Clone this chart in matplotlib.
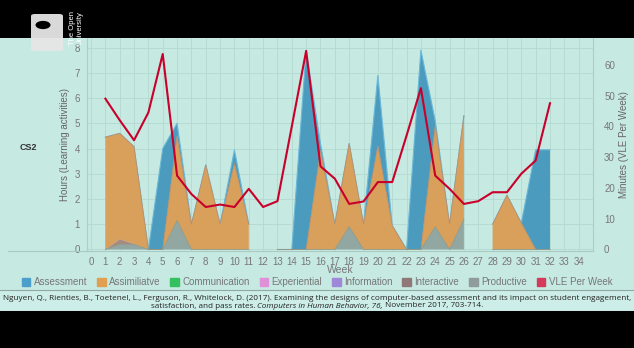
import numpy as np
import matplotlib
matplotlib.use("Agg")
import matplotlib.pyplot as plt
from matplotlib.patches import Rectangle, FancyBboxPatch, Circle
from matplotlib.lines import Line2D

nan = np.nan
weeks = list(range(0, 35))
# hours per week, index = week 0..34 (nan = no data)
assessment  = [nan, 0, 0, 0, 0, 4.0, 0.5, 0, 0, 0, 0.55, 0, nan, 0, 0, 7.9, 0.3, 0, 0, 0, 2.8, 0, 0, 7.9, 0.2, 0, 0, nan, 0, 0, 0, 3.95, 3.95, nan, nan]
assimilative = [nan, 4.45, 4.2, 3.85, 0, 0, 3.35, 1.0, 3.35, 1.0, 3.4, 1.0, nan, 0, 0, 0, 3.9, 1.0, 3.3, 1.0, 4.1, 0.95, 0, 0, 4.0, 1.0, 4.1, nan, 1.0, 2.15, 1.05, 0, 0, nan, nan]
interactive = [nan, 0, 0.2, 0.02, 0, 0, 0, 0, 0, 0, 0, 0, nan, 0, 0, 0, 0, 0, 0, 0, 0, 0, 0, 0, 0, 0, 0, nan, 0, 0, 0, 0, 0, nan, nan]
productive  = [nan, 0, 0.2, 0.2, 0, 0, 1.15, 0, 0, 0, 0, 0, nan, 0, 0, 0, 0, 0, 0.9, 0, 0, 0, 0, 0, 0.9, 0, 1.2, nan, 0, 0, 0, 0, 0, nan, nan]
vle_minutes = [nan, 49, 42, 35.5, 44.5, 63.5, 24, 18, 13.8, 14.6, 13.8, 19.7, 13.8, 15.7, 40, 64.5, 27, 23, 14.8, 15.6, 21.9, 21.9, 37, 52.4, 24, 19.7, 14.8, 15.7, 18.6, 18.6, 24.6, 28.9, 47.5, nan, nan]

legend_labels = ["Assessment", "Assimiliatve", "Communication", "Experiential",
                 "Information", "Interactive", "Productive", "VLE Per Week"]
legend_colors = ["#4a9fcb", "#e0a050", "#35c060", "#e090d8", "#a088d8", "#907878", "#909c9a", "#d63a5a"]

W, H = 634, 348
BG = "#c6e9e2"
fig = plt.figure(figsize=(W / 100, H / 100), dpi=100, facecolor=BG)
plt.rcParams['font.family'] = ['Liberation Sans', 'DejaVu Sans']

def fx(x): return x / W
def fy(y): return 1 - y / H

L, R, T, B = 87, 593, 38, 251
ax = fig.add_axes([fx(L), fy(B), fx(R) - fx(L), fy(T) - fy(B)])
ax.set_facecolor(BG)
ax.set_xlim(-0.28, 35)
ax.set_ylim(-0.06, 8.38)
ax.set_xticks(range(0, 35))
ax.set_yticks(range(0, 9))
ax.grid(True, color="#b4d9d1", lw=0.6)
ax.set_axisbelow(True)
for s in ["top", "bottom", "right"]:
    ax.spines[s].set_visible(False)
ax.spines["left"].set_color("#a9cfc8")
ax.tick_params(axis="both", length=0, labelsize=7, labelcolor="#777777")
ax.tick_params(axis="x", pad=4)
ax.tick_params(axis="y", pad=5)

x = np.array(weeks, dtype=float)
prod = np.array(productive, dtype=float)
inter = np.array(interactive, dtype=float)
assim = np.array(assimilative, dtype=float)
asse = np.array(assessment, dtype=float)

c1 = prod
c2 = c1 + inter
c3 = c2 + assim
c4 = c3 + asse
base = np.where(np.isnan(c1), nan, 0.0)

ax.fill_between(x, c3, c4, color="#4a9bbd", lw=0, zorder=2)
ax.plot(x, c4, color="#6cb8d8", lw=0.8, zorder=2.1)
ax.fill_between(x, c2, c3, color="#d9a05b", lw=0, zorder=3)
ax.plot(x, c3, color="#b89070", lw=0.6, zorder=3.1)
ax.fill_between(x, c1, c2, color="#a88a80", lw=0, zorder=4)
ax.fill_between(x, base, c1, color="#93a7a2", lw=0, zorder=5)
ax.plot(x, c1, color="#8f9a88", lw=0.6, zorder=5.1)

ax.set_xlabel("Week", fontsize=7.5, color="#777777", labelpad=-1)
ax.set_ylabel("Hours (Learning activities)", fontsize=7, color="#666666", labelpad=3)

ax2 = ax.twinx()
ax2.set_ylim(-0.49, 68.7)
ax2.set_yticks(range(0, 70, 10))
for s in ["top", "bottom", "left"]:
    ax2.spines[s].set_visible(False)
ax2.spines["right"].set_color("#a9cfc8")
ax2.tick_params(axis="y", length=0, labelsize=7, labelcolor="#777777", pad=8)
ax2.plot(x, vle_minutes, color="#c8002a", lw=1.5, zorder=6)
ax2.set_ylabel("Minutes (VLE Per Week)", fontsize=7, color="#666666", labelpad=3)

# baseline extending left
fig.add_artist(Line2D([fx(8), fx(R)], [fy(251), fy(251)], color="#a9c9c3", lw=0.8))

fig.text(fx(28), fy(148), "CS2", fontsize=6.5, fontweight="bold", color="#333333", ha="center", va="center")

# legend
handles = [Rectangle((0, 0), 1, 1, color=c) for c in legend_colors]
leg = fig.legend(handles, legend_labels, loc="center", bbox_to_anchor=(fx(317), fy(282)), ncol=8,
                 frameon=False, fontsize=7, handlelength=0.9, handleheight=0.9, handletextpad=0.35,
                 columnspacing=1.0, labelcolor="#777777", borderpad=0, borderaxespad=0)

# citation band
fig.add_artist(Rectangle((0, fy(311)), 1, fy(290) - fy(311), transform=fig.transFigure,
                         facecolor="#cdeee8", edgecolor="none"))
fig.add_artist(Line2D([0, 1], [fy(290), fy(290)], color="#8fa8a4", lw=0.8))
fig.add_artist(Line2D([0, 1], [fy(310.5), fy(310.5)], color="#8fa8a4", lw=0.8))
cite1 = ("Nguyen, Q., Rienties, B., Toetenel, L., Ferguson, R., Whitelock, D. (2017). Examining the designs "
         "of computer-based assessment and its impact on student engagement,")
fig.text(fx(317), fy(298), cite1, fontsize=5.85, family="Open Sans", color="#222222", ha="center", va="center")
parts = [("satisfaction, and pass rates. ", "normal"), ("Computers in Human Behavior, 76,", "italic"),
         (" November 2017, 703-714.", "normal")]
fig.canvas.draw()
rend = fig.canvas.get_renderer()
texts = []
total = 0
for s, st in parts:
    t = fig.text(0, fy(306), s, fontsize=5.85, family="Open Sans", style=st, color="#222222", ha="left", va="center")
    w = t.get_window_extent(rend).width
    texts.append((t, w))
    total += w
start = 317 - total / 2
for t, w in texts:
    t.set_x(fx(start))
    start += w

# black bands
fig.add_artist(Rectangle((0, fy(38)), 1, 1 - fy(38), transform=fig.transFigure, facecolor="black", edgecolor="none", zorder=10))
fig.add_artist(Rectangle((0, 0), 1, fy(311), transform=fig.transFigure, facecolor="black", edgecolor="none", zorder=10))

# logo
logo = FancyBboxPatch((fx(31), fy(51)), fx(63) - fx(31), fy(14) - fy(51), boxstyle="round,pad=0,rounding_size=0.006",
                      transform=fig.transFigure, facecolor="#e6e6e6", edgecolor="none", alpha=0.95, zorder=11)
fig.add_artist(logo)
fig.add_artist(Circle((fx(43), fy(25)), 7.5 / W, transform=fig.transFigure, facecolor="black", edgecolor="none", zorder=12))
fig.text(fx(76), fy(28), "The Open\nUniversity", rotation=90, fontsize=5.5, color="white", ha="center", va="center",
         linespacing=1.0, zorder=12)

fig.savefig("out.png", dpi=100, facecolor=BG)
